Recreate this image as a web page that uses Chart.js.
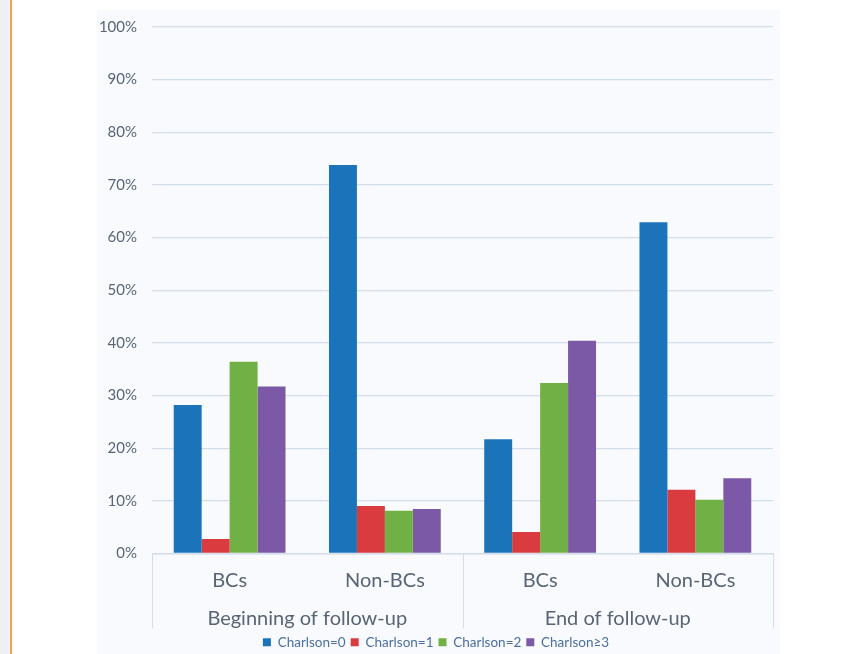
<!DOCTYPE html>
<html>
<head>
<meta charset="utf-8">
<script src="https://cdn.jsdelivr.net/npm/chart.js@4.4.1/dist/chart.umd.min.js"></script>
<style>
  html, body { margin: 0; padding: 0; background: #ffffff; }
  #wrap { position: relative; width: 866px; height: 654px; overflow: hidden; background: #ffffff; }
  #strip { position: absolute; left: 0; top: 0; width: 10px; height: 654px; background: #eef0f8; }
  #rule { position: absolute; left: 10px; top: 0; width: 2px; height: 654px; background: #f2a24a; }
  #panel { position: absolute; left: 97px; top: 10px; width: 683px; height: 644px; background: #f9fafd; }
  canvas { position: absolute; left: 0; top: 0; }
</style>
</head>
<body>
<div id="wrap">
  <div id="strip"></div>
  <div id="rule"></div>
  <div id="panel"></div>
  <canvas id="chart" width="866" height="654"></canvas>
</div>
<script>
// Share of patients by Charlson comorbidity score (%)
const categories = ['BCs', 'Non-BCs', 'BCs', 'Non-BCs'];
const periods = ['Beginning of follow-up', 'End of follow-up'];
const seriesNames = ['Charlson=0', 'Charlson=1', 'Charlson=2', 'Charlson\u22653'];
const charlson0 = [28.2, 73.8, 21.7, 62.9];
const charlson1 = [2.75, 9.0, 4.1, 12.1];
const charlson2 = [36.4, 8.1, 32.4, 10.2];
const charlson3 = [31.7, 8.45, 40.4, 14.3];
const yTickValues = [0, 10, 20, 30, 40, 50, 60, 70, 80, 90, 100];

const colors = ['#1b74ba', '#d93b3f', '#70b045', '#7b59a6'];
const textColor = '#596575';
const lineColor = '#d3deea';

const seriesValues = [charlson0, charlson1, charlson2, charlson3];

// Boundary lines of the two-level category axis
const groupDividers = {
  id: 'groupDividers',
  afterDraw(chart) {
    const { ctx, chartArea, scales } = chart;
    const x = scales.x;
    const mid = (x.getPixelForValue(1) + x.getPixelForValue(2)) / 2;
    const bottom = chartArea.bottom + 75;
    ctx.save();
    ctx.strokeStyle = lineColor;
    ctx.lineWidth = 1;
    ctx.beginPath();
    ctx.moveTo(chartArea.left, chartArea.bottom + 0.5);
    ctx.lineTo(chartArea.right, chartArea.bottom + 0.5);
    [chartArea.left, mid, chartArea.right].forEach(px => {
      const p = Math.round(px) + 0.5;
      ctx.moveTo(p, chartArea.bottom);
      ctx.lineTo(p, bottom);
    });
    ctx.stroke();
    ctx.restore();
  }
};

new Chart(document.getElementById('chart'), {
  type: 'bar',
  data: {
    labels: categories,
    datasets: seriesValues.map((vals, i) => ({
      label: seriesNames[i],
      data: vals,
      backgroundColor: colors[i],
      borderWidth: 0,
      categoryPercentage: 0.72,
      barPercentage: 1.0,
      xAxisID: 'x'
    }))
  },
  options: {
    responsive: false,
    animation: false,
    devicePixelRatio: 1,
    layout: { padding: { top: 27, right: 93, left: 99, bottom: -5 } },
    plugins: {
      legend: {
        position: 'bottom',
        labels: {
          boxWidth: 8,
          boxHeight: 8,
          padding: 5,
          color: '#4a6fa0',
          font: { family: 'Lato', size: 13.5 }
        }
      },
      tooltip: { enabled: false }
    },
    scales: {
      x: {
        type: 'category',
        position: 'bottom',
        grid: { display: false, drawTicks: false },
        border: { display: false },
        ticks: { color: textColor, padding: 15, font: { family: 'Lato', size: 20 } },
        afterFit(axis) { axis.height = 34; }
      },
      x2: {
        type: 'category',
        position: 'bottom',
        labels: periods,
        offset: true,
        grid: { display: false, drawTicks: false },
        border: { display: false },
        ticks: { color: textColor, padding: 19, font: { family: 'Lato', size: 20 } },
        afterFit(axis) { axis.height = 43; }
      },
      y: {
        min: 0,
        max: 100,
        afterBuildTicks(axis) { axis.ticks = yTickValues.map(v => ({ value: v })); },
        afterFit(axis) { axis.width = 53; },
        grid: { color: lineColor, lineWidth: 1.3, drawTicks: false },
        border: { display: false },
        ticks: {
          color: textColor,
          padding: 15,
          font: { family: 'Lato', size: 15 },
          callback: v => v + '%'
        }
      }
    }
  },
  plugins: [groupDividers]
});
</script>
</body>
</html>
